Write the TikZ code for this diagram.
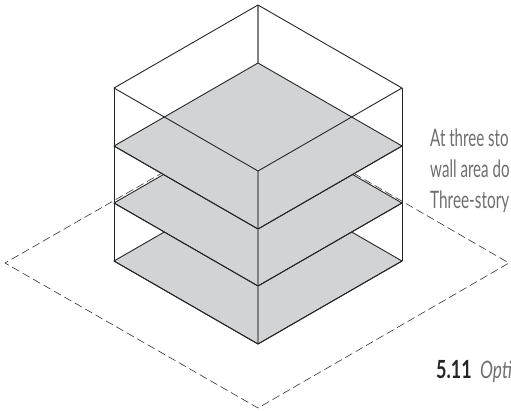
\documentclass[tikz,border=0pt]{standalone}
\usepackage{fontspec}
\setmainfont{Lato}
\usepackage{graphicx}
\usepackage{xcolor}
\usetikzlibrary{calc}
\definecolor{floorgray}{RGB}{209,211,212}
\definecolor{postgray}{RGB}{128,128,130}
\definecolor{notegray}{RGB}{110,110,112}

\tikzset{
  floorplate/.style={fill=floorgray, draw=black!85, line width=.9pt, line join=round},
  edge/.style={draw=black!85, line width=.9pt, line join=round},
  post/.style={draw=postgray, line width=1.2pt},
  sitepath/.style={draw=black!80, line width=.6pt, dash pattern=on 8pt off 4pt},
  notetext/.style={anchor=base west, inner sep=0pt, text=notegray, font=\fontsize{24}{24}\selectfont},
}

\begin{document}
\begin{tikzpicture}[x=1pt, y=-1pt]

    % ==========================================
    % DEFINE PARAMETERS & COORDINATES
    % ==========================================

    \useasboundingbox (0,0) rectangle (511,410);
    \clip (0,0) rectangle (511,410);

    % Half width and half depth of the box
    \def\halfW{144}
    \def\halfD{83}

    % Top of the box
    \coordinate (T_back)  at (258,5);
    \coordinate (T_left)  at ($(T_back) + (-\halfW,\halfD)$);
    \coordinate (T_front) at ($(T_back) + (0,2*\halfD)$);
    \coordinate (T_right) at ($(T_back) + (\halfW,\halfD)$);

    % Site outline
    \coordinate (S_back)  at (258,118);
    \coordinate (S_left)  at (5,263);
    \coordinate (S_front) at (258,408);
    \coordinate (S_right) at (509,263);

    % ==========================================
    % DRAW SITE & FLOORS
    % ==========================================

    \draw[sitepath] (S_back) -- (S_left) -- (S_front) -- (S_right) -- cycle;

    % Floor plates, lowest first so the upper ones cover it
    \foreach \level/\backY in {bottom/178, middle/120, top/63} {
      \coordinate (\level_back)  at (258,\backY);
      \coordinate (\level_left)  at ($(\level_back) + (-\halfW,\halfD)$);
      \coordinate (\level_front) at ($(\level_back) + (0,2*\halfD)$);
      \coordinate (\level_right) at ($(\level_back) + (\halfW,\halfD)$);
      \draw[floorplate] (\level_back) -- (\level_left) -- (\level_front) -- (\level_right) -- cycle;
    }

    % ==========================================
    % DRAW BOX EDGES
    % ==========================================

    \draw[post] (T_back) -- (258,63);
    \draw[post] (T_front) -- (258,344);
    \draw[edge] (T_left) -- (114,261);
    \draw[edge] (T_right) -- (402,261);
    \draw[edge] (T_back) -- (T_left) -- (T_front) -- (T_right) -- cycle;

    % Floor lines again, across the posts
    \draw[edge] (114,146) -- (258,229) -- (402,146);
    \draw[edge] (114,203) -- (258,286) -- (402,203);
    \draw[edge] (114,261) -- (258,344) -- (402,261);

    % ==========================================
    % TEXT
    % ==========================================

    \node[notetext] (noteA) at (430,146) {\scalebox{.63}[1]{At three sto}};
    \node[notetext] (noteB) at (430,177) {\scalebox{.63}[1]{wall area do}};
    \node[notetext] (noteC) at (430,208) {\scalebox{.64}[1]{Three-story}};
    \node[anchor=base west, inner sep=0pt, font=\fontsize{25}{25}\selectfont\bfseries, text=black!85] (figNo) at (436,378) {\scalebox{.72}[1]{5.11}};
    \node[notetext, font=\fontsize{24}{24}\selectfont\itshape] (figCap) at (480,378) {\scalebox{.72}[1]{Opti}};

\end{tikzpicture}
\end{document}
